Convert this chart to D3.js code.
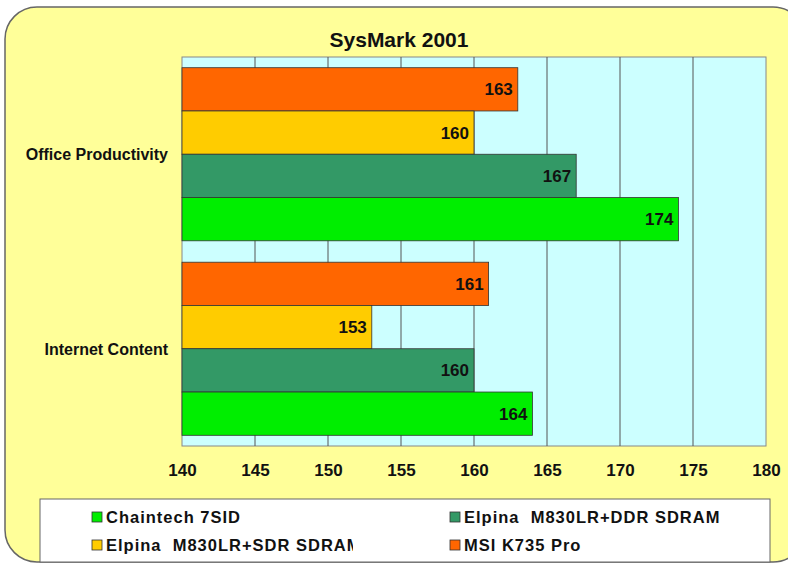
<html>
<head>
  <script src="https://d3js.org/d3.v7.min.js"></script>
  <style>
    body { margin: 0; background: #fff; }
    text { font-family: "Liberation Sans", Arial, sans-serif; font-weight: bold; fill: #111; }
  </style>
</head>
<body>
  <svg id="chart" width="788" height="563"></svg>
  <script>
    // data
    const categories = ["Office Productivity", "Internet Content"];
    const seriesNames = ["MSI K735 Pro", "Elpina  M830LR+SDR SDRAM", "Elpina  M830LR+DDR SDRAM", "Chaintech 7SID"];
    const seriesColors = ["#ff6600", "#ffcc00", "#339966", "#00ee00"];
    const officeValues = [163, 160, 167, 174];
    const internetValues = [161, 153, 160, 164];
    const xTicks = [140, 145, 150, 155, 160, 165, 170, 175, 180];

    const valuesByCategory = [officeValues, internetValues];

    const svg = d3.select("#chart");

    // outer panel
    svg.append("rect")
      .attr("x", 5).attr("y", 7)
      .attr("width", 800).attr("height", 555)
      .attr("rx", 32).attr("ry", 32)
      .attr("fill", "#ffff99")
      .attr("stroke", "#666").attr("stroke-width", 1.5);

    svg.append("text")
      .attr("x", 399).attr("y", 47)
      .attr("text-anchor", "middle")
      .style("font-size", "21px")
      .text("SysMark 2001");

    const plot = { left: 182, right: 766, top: 57, bottom: 446 };

    const x = d3.scaleLinear().domain([140, 180]).range([plot.left, plot.right]);
    const y0 = d3.scaleBand().domain(categories).range([plot.top, plot.bottom]).paddingInner(0.11).paddingOuter(0.055);
    const y1 = d3.scaleBand().domain(seriesNames).range([0, y0.bandwidth()]);

    svg.append("rect")
      .attr("x", plot.left).attr("y", plot.top)
      .attr("width", plot.right - plot.left).attr("height", plot.bottom - plot.top)
      .attr("fill", "#ccffff")
      .attr("stroke", "#888").attr("stroke-width", 1);

    svg.append("g").selectAll("line")
      .data(xTicks.slice(1, -1))
      .join("line")
      .attr("x1", d => x(d)).attr("x2", d => x(d))
      .attr("y1", plot.top).attr("y2", plot.bottom)
      .attr("stroke", "#555").attr("stroke-width", 1);

    const groups = svg.append("g").selectAll("g")
      .data(categories)
      .join("g")
      .attr("transform", d => `translate(0,${y0(d)})`);

    groups.selectAll("rect")
      .data((d, i) => valuesByCategory[i].map((v, j) => ({ name: seriesNames[j], value: v, color: seriesColors[j] })))
      .join("rect")
      .attr("x", x(140))
      .attr("y", d => y1(d.name))
      .attr("width", d => x(d.value) - x(140))
      .attr("height", y1.bandwidth())
      .attr("fill", d => d.color)
      .attr("stroke", "#333").attr("stroke-width", 0.8);

    groups.selectAll("text.val")
      .data((d, i) => valuesByCategory[i].map((v, j) => ({ name: seriesNames[j], value: v })))
      .join("text")
      .attr("class", "val")
      .attr("x", d => x(d.value) - 5)
      .attr("y", d => y1(d.name) + y1.bandwidth() / 2 + 6)
      .attr("text-anchor", "end")
      .style("font-size", "17px")
      .text(d => d.value);

    // category labels
    svg.append("g").selectAll("text")
      .data(categories)
      .join("text")
      .attr("x", 168)
      .attr("y", d => y0(d) + y0.bandwidth() / 2 + 6)
      .attr("text-anchor", "end")
      .style("font-size", "16px")
      .text(d => d);

    // x axis
    const xAxis = d3.axisBottom(x).tickValues(xTicks).tickSize(0).tickPadding(18);
    const axisG = svg.append("g")
      .attr("transform", `translate(0,${plot.bottom})`)
      .call(xAxis);
    axisG.select(".domain").remove();
    axisG.selectAll("text")
      .attr("fill", "#111")
      .style("font-size", "17px")
      .style("font-family", "'Liberation Sans', Arial, sans-serif")
      .style("font-weight", "bold");

    // legend
    svg.append("rect")
      .attr("x", 40).attr("y", 499)
      .attr("width", 730).attr("height", 63)
      .attr("fill", "#fff")
      .attr("stroke", "#666").attr("stroke-width", 1);

    const defs = svg.append("defs");
    defs.append("clipPath").attr("id", "clipL").append("rect")
      .attr("x", 40).attr("y", 499).attr("width", 313).attr("height", 63);
    defs.append("clipPath").attr("id", "clipR").append("rect")
      .attr("x", 440).attr("y", 499).attr("width", 280).attr("height", 63);

    const legendOrder = [3, 2, 1, 0];
    const legendPos = [
      { x: 92, y: 517, clip: "clipL" },
      { x: 450, y: 517, clip: "clipR" },
      { x: 92, y: 545, clip: "clipL" },
      { x: 450, y: 545, clip: "clipR" }
    ];

    const items = svg.append("g").selectAll("g")
      .data(legendOrder)
      .join("g")
      .attr("clip-path", (d, i) => `url(#${legendPos[i].clip})`)
      .append("g")
      .attr("transform", (d, i) => `translate(${legendPos[i].x},${legendPos[i].y})`);

    items.append("rect")
      .attr("x", 0).attr("y", -5)
      .attr("width", 10).attr("height", 10)
      .attr("fill", d => seriesColors[d])
      .attr("stroke", "#333").attr("stroke-width", 0.8);

    items.append("text")
      .attr("x", 14).attr("y", 6)
      .style("font-size", "16.5px")
      .style("letter-spacing", "1px")
      .style("white-space", "pre")
      .text(d => seriesNames[d]);
  </script>
</body>
</html>
